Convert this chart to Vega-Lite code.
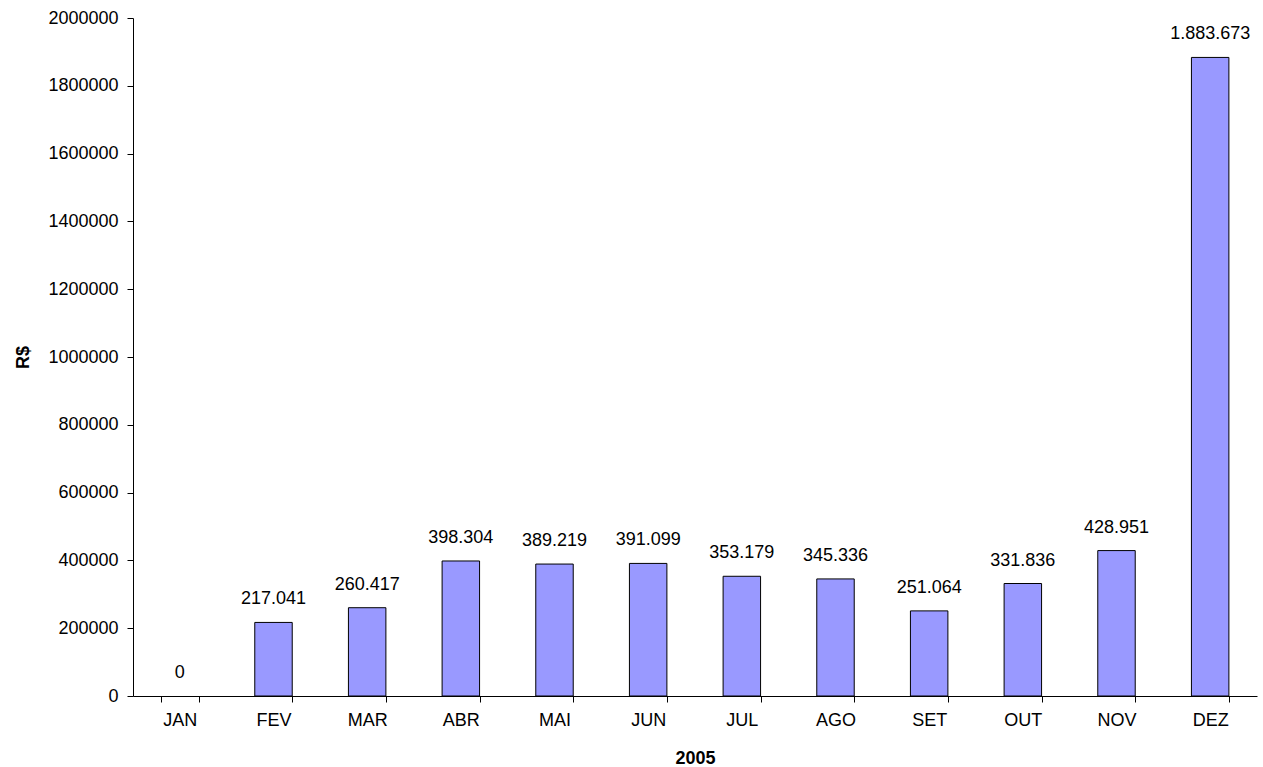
{
  "$schema": "https://vega.github.io/schema/vega-lite/v6.json",
  "width": 1124,
  "height": 678,
  "autosize": {"type": "none"},
  "padding": {"left": 133, "top": 18, "right": 6, "bottom": 71},
  "background": "white",
  "config": {
    "view": {"stroke": null},
    "font": "Liberation Sans",
    "locale": {"number": {"decimal": ",", "thousands": ".", "grouping": [3], "currency": ["R$", ""]}}
  },
  "data": {
    "values": [
      {"mes": "JAN", "valor": 0},
      {"mes": "FEV", "valor": 217041},
      {"mes": "MAR", "valor": 260417},
      {"mes": "ABR", "valor": 398304},
      {"mes": "MAI", "valor": 389219},
      {"mes": "JUN", "valor": 391099},
      {"mes": "JUL", "valor": 353179},
      {"mes": "AGO", "valor": 345336},
      {"mes": "SET", "valor": 251064},
      {"mes": "OUT", "valor": 331836},
      {"mes": "NOV", "valor": 428951},
      {"mes": "DEZ", "valor": 1883673}
    ]
  },
  "encoding": {
    "x": {
      "field": "mes", "type": "nominal", "sort": null,
      "scale": {"paddingInner": 0.6, "paddingOuter": 0.3},
      "axis": {
        "title": "2005", "titleFontSize": 18, "titleFontWeight": "bold", "titleColor": "black", "titlePadding": 20,
        "labelAngle": 0, "labelFontSize": 18, "labelColor": "black", "labelPadding": 9,
        "tickBand": "extent", "tickSize": 6, "tickColor": "black", "domainColor": "black", "grid": false
      }
    },
    "y": {
      "field": "valor", "type": "quantitative",
      "scale": {"domain": [0, 2000000], "nice": false},
      "axis": {
        "title": "R$", "titleFontSize": 18, "titleFontWeight": "bold", "titleColor": "black", "titlePadding": 15,
        "values": [0, 200000, 400000, 600000, 800000, 1000000, 1200000, 1400000, 1600000, 1800000, 2000000],
        "format": "d", "labelFontSize": 18, "labelColor": "black", "labelPadding": 9,
        "tickSize": 6, "tickColor": "black", "domainColor": "black", "grid": false
      }
    }
  },
  "layer": [
    {
      "mark": {"type": "bar", "fill": "#9999FF", "stroke": "black", "strokeWidth": 1},
      "encoding": {
        "strokeOpacity": {"condition": {"test": "datum.valor == 0", "value": 0}, "value": 1}
      }
    },
    {
      "mark": {"type": "text", "baseline": "bottom", "dy": -14, "fontSize": 18, "color": "black"},
      "encoding": {"text": {"field": "valor", "type": "quantitative", "format": ",d"}}
    }
  ]
}
